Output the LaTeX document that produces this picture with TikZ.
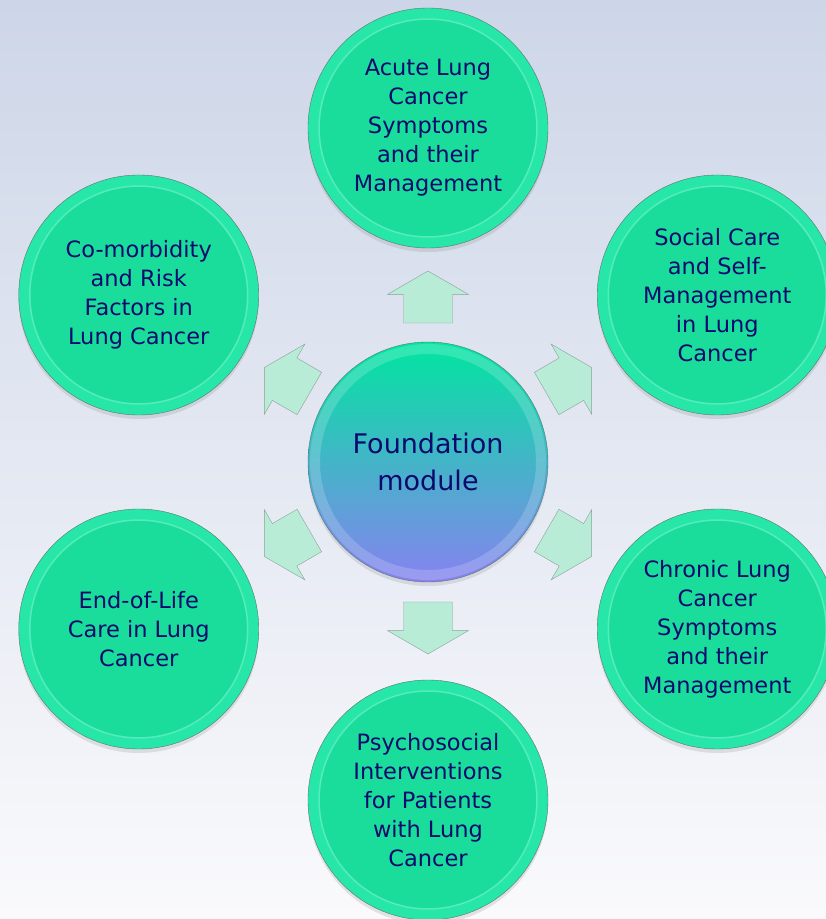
\documentclass[tikz,border=0pt]{standalone}
\usepackage{fontspec}
\setmainfont{DejaVu Sans}
\usetikzlibrary{shapes,arrows,positioning,shadows}

\definecolor{bgtop}{RGB}{205,214,232}
\definecolor{bgbottom}{RGB}{250,250,252}
\definecolor{modgreen}{RGB}{27,221,155}
\definecolor{rimgreen}{RGB}{38,230,168}
\definecolor{edgegray}{RGB}{95,115,110}
\definecolor{textnavy}{RGB}{10,10,110}
\definecolor{arrowfill}{RGB}{184,236,214}
\definecolor{arrowedge}{RGB}{140,160,155}
\definecolor{foundtop}{RGB}{0,230,160}
\definecolor{foundmid}{RGB}{45,195,195}
\definecolor{foundbottom}{RGB}{135,130,240}

\begin{document}
\begin{tikzpicture}[
        x=1pt, y=1pt,
        module/.style={circle, draw=edgegray, fill=rimgreen, minimum size=240pt, inner sep=0pt,
            align=center, text=textnavy, font=\fontsize{22.5}{29}\selectfont,
            drop shadow={opacity=0.2, shadow xshift=0pt, shadow yshift=-4pt},
            path picture={
                \fill[modgreen] (path picture bounding box.center) circle (108pt);
                \draw[white, opacity=0.22, line width=1.5pt] (path picture bounding box.center) circle (109pt);}},
        found/.style={circle, draw=edgegray, minimum size=240pt, inner sep=0pt,
            top color=foundtop, middle color=foundmid, bottom color=foundbottom,
            align=center, text=textnavy, font=\fontsize{27}{37}\selectfont,
            drop shadow={opacity=0.2, shadow xshift=0pt, shadow yshift=-4pt},
            path picture={
                \draw[white, opacity=0.18, line width=10pt] (path picture bounding box.center) circle (113pt);}},
        flow/.style={draw=arrowedge, fill=arrowfill, line join=miter},
        blockarrow/.pic={
            \draw[flow] (-26,-24.5) -- (2.6,-24.5) -- (2.6,-40.5) -- (26,0)
                -- (2.6,40.5) -- (2.6,24.5) -- (-26,24.5) -- cycle;}
    ]
        \useasboundingbox (0,0) rectangle (826,919);
        \clip (0,0) rectangle (826,919);
        \shade[top color=bgtop, bottom color=bgbottom] (0,0) rectangle (826,919);

        % centre and the six modules
        \node[found] (foundation) at (428,457) {Foundation\\module};
        \node[module] (acute) at ([shift={(90:334)}]foundation.center) {Acute Lung\\Cancer\\Symptoms\\and their\\Management};
        \node[module] (social) at ([shift={(30:334)}]foundation.center) {Social Care\\and Self-\\Management\\in Lung\\Cancer};
        \node[module] (chronic) at ([shift={(-30:334)}]foundation.center) {Chronic Lung\\Cancer\\Symptoms\\and their\\Management};
        \node[module] (psycho) at ([shift={(-90:338)}]foundation.center) {Psychosocial\\Interventions\\for Patients\\with Lung\\Cancer};
        \node[module] (endlife) at ([shift={(210:334)}]foundation.center) {End-of-Life\\Care in Lung\\Cancer};
        \node[module] (comorb) at ([shift={(150:334)}]foundation.center) {Co-morbidity\\and Risk\\Factors in\\Lung Cancer};

        % block arrows
        \pic[rotate=90] at ([shift={(90:165)}]foundation.center) {blockarrow};
        \pic[rotate=30] at ([shift={(30:163)}]foundation.center) {blockarrow};
        \pic[rotate=-30] at ([shift={(-30:163)}]foundation.center) {blockarrow};
        \pic[rotate=-90] at ([shift={(-90:166)}]foundation.center) {blockarrow};
        \pic[rotate=210] at ([shift={(210:163)}]foundation.center) {blockarrow};
        \pic[rotate=150] at ([shift={(150:163)}]foundation.center) {blockarrow};
    \end{tikzpicture}
\end{document}
